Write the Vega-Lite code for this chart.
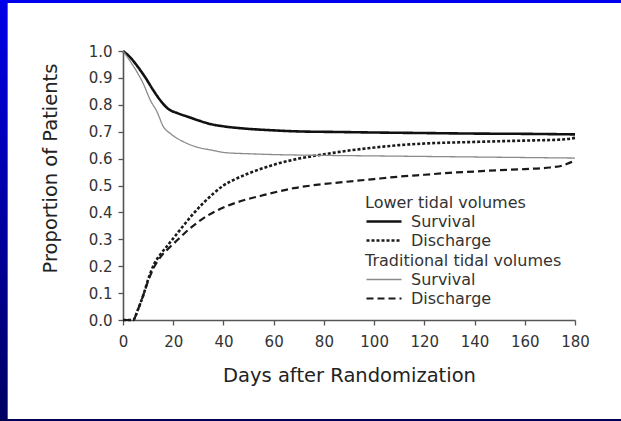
{
  "$schema": "https://vega.github.io/schema/vega-lite/v6.json",
  "autosize": "none",
  "width": 452,
  "height": 269,
  "padding": {"left": 123, "top": 51, "right": 46, "bottom": 101},
  "background": "white",
  "config": {
    "view": {"stroke": null},
    "font": "DejaVu Sans",
    "axis": {
      "grid": false,
      "domainColor": "#555", "domainWidth": 1.6,
      "tickColor": "#555", "tickSize": 5, "tickWidth": 1.3,
      "labelOverlap": false, "labelFlush": false, "labelBound": false,
      "labelFont": "DejaVu Sans", "labelFontSize": 15, "labelColor": "#333",
      "titleFont": "DejaVu Sans", "titleFontSize": 19.5, "titleFontWeight": "normal", "titleColor": "#222"
    },
    "axisX": {"labelPadding": 9, "titlePadding": 17, "tickCount": 20},
    "axisY": {"labelPadding": 6, "tickCount": 20, "titleX": -73, "titleY": 117, "titleAlign": "center", "titleBaseline": "middle", "titleAngle": -90},
    "legend": {
      "padding": 0,
      "titleFont": "DejaVu Sans", "titleFontSize": 16, "titleFontWeight": "normal", "titleColor": "#333", "titleLimit": 400,
      "labelFont": "DejaVu Sans", "labelFontSize": 16, "labelColor": "#333",
      "symbolType": "stroke", "symbolSize": 1225, "labelOffset": 8, "rowPadding": 2, "clipHeight": 17, "titlePadding": 2
    }
  },
  "datasets": {
    "curves": [
      {"group": "Lower", "measure": "Survival", "day": 0, "proportion": 1.0},
      {"group": "Lower", "measure": "Survival", "day": 3, "proportion": 0.975},
      {"group": "Lower", "measure": "Survival", "day": 6, "proportion": 0.94},
      {"group": "Lower", "measure": "Survival", "day": 9, "proportion": 0.9},
      {"group": "Lower", "measure": "Survival", "day": 12, "proportion": 0.855},
      {"group": "Lower", "measure": "Survival", "day": 15, "proportion": 0.815},
      {"group": "Lower", "measure": "Survival", "day": 18, "proportion": 0.785},
      {"group": "Lower", "measure": "Survival", "day": 22, "proportion": 0.768},
      {"group": "Lower", "measure": "Survival", "day": 26, "proportion": 0.755},
      {"group": "Lower", "measure": "Survival", "day": 30, "proportion": 0.742},
      {"group": "Lower", "measure": "Survival", "day": 35, "proportion": 0.728},
      {"group": "Lower", "measure": "Survival", "day": 40, "proportion": 0.72},
      {"group": "Lower", "measure": "Survival", "day": 48, "proportion": 0.712},
      {"group": "Lower", "measure": "Survival", "day": 60, "proportion": 0.705},
      {"group": "Lower", "measure": "Survival", "day": 70, "proportion": 0.701},
      {"group": "Lower", "measure": "Survival", "day": 85, "proportion": 0.699},
      {"group": "Lower", "measure": "Survival", "day": 100, "proportion": 0.697},
      {"group": "Lower", "measure": "Survival", "day": 120, "proportion": 0.695},
      {"group": "Lower", "measure": "Survival", "day": 140, "proportion": 0.693},
      {"group": "Lower", "measure": "Survival", "day": 160, "proportion": 0.692},
      {"group": "Lower", "measure": "Survival", "day": 180, "proportion": 0.69},

      {"group": "Lower", "measure": "Discharge", "day": 0, "proportion": 0.0},
      {"group": "Lower", "measure": "Discharge", "day": 4, "proportion": 0.0},
      {"group": "Lower", "measure": "Discharge", "day": 6, "proportion": 0.04},
      {"group": "Lower", "measure": "Discharge", "day": 8, "proportion": 0.09},
      {"group": "Lower", "measure": "Discharge", "day": 10, "proportion": 0.15},
      {"group": "Lower", "measure": "Discharge", "day": 12, "proportion": 0.2},
      {"group": "Lower", "measure": "Discharge", "day": 15, "proportion": 0.245},
      {"group": "Lower", "measure": "Discharge", "day": 18, "proportion": 0.28},
      {"group": "Lower", "measure": "Discharge", "day": 21, "proportion": 0.315},
      {"group": "Lower", "measure": "Discharge", "day": 24, "proportion": 0.35},
      {"group": "Lower", "measure": "Discharge", "day": 28, "proportion": 0.395},
      {"group": "Lower", "measure": "Discharge", "day": 32, "proportion": 0.435},
      {"group": "Lower", "measure": "Discharge", "day": 36, "proportion": 0.47},
      {"group": "Lower", "measure": "Discharge", "day": 40, "proportion": 0.5},
      {"group": "Lower", "measure": "Discharge", "day": 45, "proportion": 0.525},
      {"group": "Lower", "measure": "Discharge", "day": 50, "proportion": 0.545},
      {"group": "Lower", "measure": "Discharge", "day": 60, "proportion": 0.577},
      {"group": "Lower", "measure": "Discharge", "day": 70, "proportion": 0.6},
      {"group": "Lower", "measure": "Discharge", "day": 80, "proportion": 0.616},
      {"group": "Lower", "measure": "Discharge", "day": 90, "proportion": 0.63},
      {"group": "Lower", "measure": "Discharge", "day": 100, "proportion": 0.641},
      {"group": "Lower", "measure": "Discharge", "day": 110, "proportion": 0.65},
      {"group": "Lower", "measure": "Discharge", "day": 120, "proportion": 0.656},
      {"group": "Lower", "measure": "Discharge", "day": 140, "proportion": 0.662},
      {"group": "Lower", "measure": "Discharge", "day": 160, "proportion": 0.667},
      {"group": "Lower", "measure": "Discharge", "day": 175, "proportion": 0.671},
      {"group": "Lower", "measure": "Discharge", "day": 180, "proportion": 0.677},

      {"group": "Traditional", "measure": "Survival", "day": 0, "proportion": 1.0},
      {"group": "Traditional", "measure": "Survival", "day": 3, "proportion": 0.96},
      {"group": "Traditional", "measure": "Survival", "day": 6, "proportion": 0.915},
      {"group": "Traditional", "measure": "Survival", "day": 8, "proportion": 0.88},
      {"group": "Traditional", "measure": "Survival", "day": 11, "proportion": 0.815},
      {"group": "Traditional", "measure": "Survival", "day": 13.5, "proportion": 0.775},
      {"group": "Traditional", "measure": "Survival", "day": 16, "proportion": 0.72},
      {"group": "Traditional", "measure": "Survival", "day": 19, "proportion": 0.692},
      {"group": "Traditional", "measure": "Survival", "day": 24, "proportion": 0.663},
      {"group": "Traditional", "measure": "Survival", "day": 29, "proportion": 0.644},
      {"group": "Traditional", "measure": "Survival", "day": 35, "proportion": 0.632},
      {"group": "Traditional", "measure": "Survival", "day": 41, "proportion": 0.622},
      {"group": "Traditional", "measure": "Survival", "day": 50, "proportion": 0.618},
      {"group": "Traditional", "measure": "Survival", "day": 60, "proportion": 0.615},
      {"group": "Traditional", "measure": "Survival", "day": 80, "proportion": 0.612},
      {"group": "Traditional", "measure": "Survival", "day": 100, "proportion": 0.61},
      {"group": "Traditional", "measure": "Survival", "day": 120, "proportion": 0.608},
      {"group": "Traditional", "measure": "Survival", "day": 140, "proportion": 0.606},
      {"group": "Traditional", "measure": "Survival", "day": 160, "proportion": 0.604},
      {"group": "Traditional", "measure": "Survival", "day": 180, "proportion": 0.602},

      {"group": "Traditional", "measure": "Discharge", "day": 0, "proportion": 0.0},
      {"group": "Traditional", "measure": "Discharge", "day": 4, "proportion": 0.0},
      {"group": "Traditional", "measure": "Discharge", "day": 6, "proportion": 0.04},
      {"group": "Traditional", "measure": "Discharge", "day": 8, "proportion": 0.09},
      {"group": "Traditional", "measure": "Discharge", "day": 10, "proportion": 0.145},
      {"group": "Traditional", "measure": "Discharge", "day": 12, "proportion": 0.19},
      {"group": "Traditional", "measure": "Discharge", "day": 15, "proportion": 0.235},
      {"group": "Traditional", "measure": "Discharge", "day": 18, "proportion": 0.265},
      {"group": "Traditional", "measure": "Discharge", "day": 22, "proportion": 0.3},
      {"group": "Traditional", "measure": "Discharge", "day": 26, "proportion": 0.335},
      {"group": "Traditional", "measure": "Discharge", "day": 30, "proportion": 0.365},
      {"group": "Traditional", "measure": "Discharge", "day": 34, "proportion": 0.39},
      {"group": "Traditional", "measure": "Discharge", "day": 40, "proportion": 0.418},
      {"group": "Traditional", "measure": "Discharge", "day": 48, "proportion": 0.445},
      {"group": "Traditional", "measure": "Discharge", "day": 55, "proportion": 0.462},
      {"group": "Traditional", "measure": "Discharge", "day": 61, "proportion": 0.476},
      {"group": "Traditional", "measure": "Discharge", "day": 68, "proportion": 0.49},
      {"group": "Traditional", "measure": "Discharge", "day": 75, "proportion": 0.5},
      {"group": "Traditional", "measure": "Discharge", "day": 88, "proportion": 0.513},
      {"group": "Traditional", "measure": "Discharge", "day": 100, "proportion": 0.524},
      {"group": "Traditional", "measure": "Discharge", "day": 110, "proportion": 0.533},
      {"group": "Traditional", "measure": "Discharge", "day": 120, "proportion": 0.54},
      {"group": "Traditional", "measure": "Discharge", "day": 130, "proportion": 0.547},
      {"group": "Traditional", "measure": "Discharge", "day": 140, "proportion": 0.552},
      {"group": "Traditional", "measure": "Discharge", "day": 150, "proportion": 0.557},
      {"group": "Traditional", "measure": "Discharge", "day": 160, "proportion": 0.561},
      {"group": "Traditional", "measure": "Discharge", "day": 170, "proportion": 0.567},
      {"group": "Traditional", "measure": "Discharge", "day": 175, "proportion": 0.574},
      {"group": "Traditional", "measure": "Discharge", "day": 178, "proportion": 0.585},
      {"group": "Traditional", "measure": "Discharge", "day": 180, "proportion": 0.592}
    ]
  },
  "data": {"name": "curves"},
  "layer": [
    {
      "transform": [{"filter": "datum.group === 'Lower'"}],
      "mark": {"type": "line", "interpolate": "monotone"},
      "encoding": {
        "x": {"field": "day", "type": "quantitative",
          "scale": {"domain": [0, 180], "nice": false},
          "axis": {"values": [0, 20, 40, 60, 80, 100, 120, 140, 160, 180], "tickCount": 20, "title": "Days after Randomization"}},
        "y": {"field": "proportion", "type": "quantitative",
          "scale": {"domain": [0, 1], "nice": false},
          "axis": {"values": [0, 0.1, 0.2, 0.3, 0.4, 0.5, 0.6, 0.7, 0.8, 0.9, 1.0], "tickCount": 20, "format": ".1f", "title": "Proportion of Patients"}},
        "color": {"field": "measure", "type": "nominal", "title": "Lower tidal volumes",
          "scale": {"domain": ["Survival", "Discharge"], "range": ["#111111", "#1a1a1a"]},
          "legend": {"orient": "none", "legendX": 242, "legendY": 144}},
        "strokeDash": {"field": "measure", "type": "nominal", "title": "Lower tidal volumes",
          "scale": {"domain": ["Survival", "Discharge"], "range": [[1, 0], [3, 2]]}},
        "strokeWidth": {"field": "measure", "type": "nominal", "title": "Lower tidal volumes",
          "scale": {"domain": ["Survival", "Discharge"], "range": [2.6, 2.6]}}
      }
    },
    {
      "transform": [{"filter": "datum.group === 'Traditional'"}],
      "mark": {"type": "line", "interpolate": "monotone"},
      "encoding": {
        "x": {"field": "day", "type": "quantitative"},
        "y": {"field": "proportion", "type": "quantitative"},
        "color": {"field": "measure", "type": "nominal", "title": "Traditional tidal volumes",
          "scale": {"domain": ["Survival", "Discharge"], "range": ["#8a8a8a", "#1a1a1a"]},
          "legend": {"orient": "none", "legendX": 242, "legendY": 202}},
        "strokeDash": {"field": "measure", "type": "nominal", "title": "Traditional tidal volumes",
          "scale": {"domain": ["Survival", "Discharge"], "range": [[1, 0], [7, 4]]}},
        "strokeWidth": {"field": "measure", "type": "nominal", "title": "Traditional tidal volumes",
          "scale": {"domain": ["Survival", "Discharge"], "range": [1.3, 2.2]}}
      }
    },
    {
      "mark": {"type": "rect", "clip": false,
        "fill": {"gradient": "linear", "x1": 0, "y1": 0, "x2": 0, "y2": 1,
          "stops": [{"offset": 0, "color": "#0000f0"}, {"offset": 1, "color": "#000058"}]}},
      "encoding": {
        "x": {"datum": -60, "type": "quantitative"},
        "x2": {"datum": -46.19},
        "y": {"datum": 1.3, "type": "quantitative"},
        "y2": {"datum": -0.5}
      }
    },
    {
      "mark": {"type": "rect", "clip": false, "fill": "#0000f0"},
      "encoding": {
        "x": {"datum": -60, "type": "quantitative"},
        "x2": {"datum": 220},
        "y": {"datum": 1.3, "type": "quantitative"},
        "y2": {"datum": 1.1784}
      }
    },
    {
      "mark": {"type": "rect", "clip": false, "fill": "#00005a"},
      "encoding": {
        "x": {"datum": -60, "type": "quantitative"},
        "x2": {"datum": 220},
        "y": {"datum": -0.368, "type": "quantitative"},
        "y2": {"datum": -0.5}
      }
    }
  ],
  "resolve": {"scale": {"color": "independent", "strokeDash": "independent", "strokeWidth": "independent"}}
}
